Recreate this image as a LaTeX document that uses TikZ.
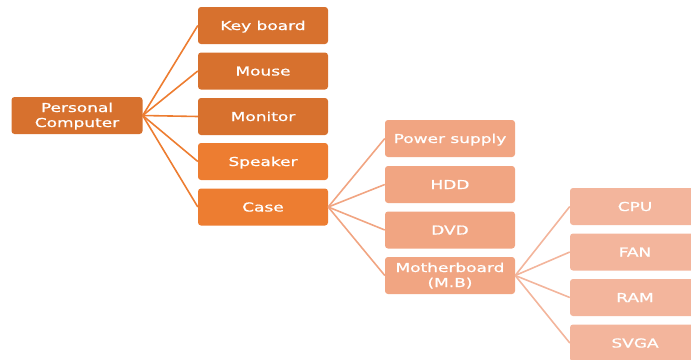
\documentclass[tikz,border=0pt]{standalone}
\usepackage{fontspec}
\setmainfont[FakeBold=0.8]{DejaVu Sans}
\usepackage{graphicx}
\definecolor{lvlA}{RGB}{215,113,46}
\definecolor{lvlB}{RGB}{237,125,49}
\definecolor{lvlC}{RGB}{241,165,130}
\definecolor{lvlD}{RGB}{243,181,156}
% widened white label text
\newcommand\lbl[1]{\scalebox{1.38}[1]{#1}}
\newcommand\twoline[2]{\vbox{\baselineskip=15pt\halign{\hfil##\hfil\cr#1\cr#2\cr}}}
\tikzset{
  box/.style={rounded corners=3pt, minimum width=130pt, minimum height=37pt,
    inner sep=0pt, text=white, font=\fontsize{12.3}{15}\selectfont,
    text height=9pt, text depth=0pt},
  twobox/.style={box, text height=23pt},
  link/.style={line width=1.6pt},
}
\begin{document}
\begin{tikzpicture}[x=1pt,y=-1pt]
\useasboundingbox (0,0) rectangle (691,359);
% root
\node[twobox, fill=lvlA, minimum width=131pt] (pc) at (77,115.5) {\lbl{\twoline{Personal}{Computer}}};
% first level
\node[box, fill=lvlA] (kb) at (263,25.5) {\lbl{Key board}};
\node[box, fill=lvlA] (mouse) at (263,71) {\lbl{Mouse}};
\node[box, fill=lvlA] (mon) at (263,116.5) {\lbl{Monitor}};
\node[box, fill=lvlB] (spk) at (263,161.5) {\lbl{Speaker}};
\node[box, fill=lvlB] (case) at (263,207) {\lbl{Case}};
% parts of the case
\node[box, fill=lvlC] (ps) at (450,138.5) {\lbl{Power supply}};
\node[box, fill=lvlC] (hdd) at (450,184.5) {\lbl{HDD}};
\node[box, fill=lvlC] (dvd) at (450,230) {\lbl{DVD}};
\node[twobox, fill=lvlC] (mb) at (450,275.5) {\lbl{\twoline{Motherboard}{(M.B)}}};
% parts of the motherboard
\node[box, fill=lvlD] (cpu) at (635,206.5) {\lbl{CPU}};
\node[box, fill=lvlD] (fan) at (635,252) {\lbl{FAN}};
\node[box, fill=lvlD] (ram) at (635,297.5) {\lbl{RAM}};
\node[box, fill=lvlD] (svga) at (635,343) {\lbl{SVGA}};
% connectors
\foreach \c in {kb,mouse,mon,spk,case}
  \draw[link, lvlB] (pc.east) -- (\c.west);
\foreach \c in {ps,hdd,dvd,mb}
  \draw[link, lvlC] (case.east) -- (\c.west);
\foreach \c in {cpu,fan,ram,svga}
  \draw[link, lvlD] (mb.east) -- (\c.west);
\end{tikzpicture}
\end{document}
